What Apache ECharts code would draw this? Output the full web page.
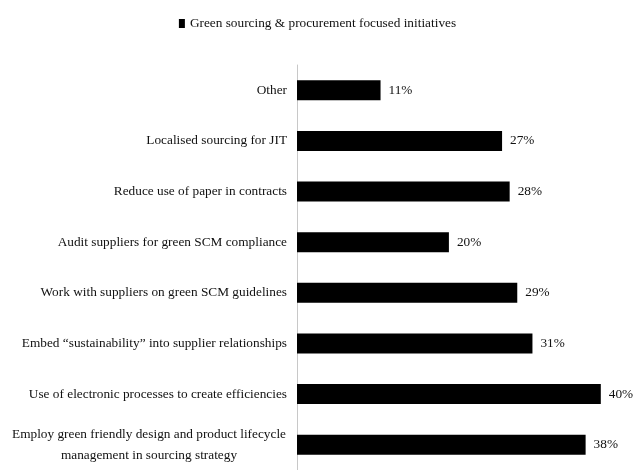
<!DOCTYPE html>
<html><head><meta charset="utf-8">
<script src="https://cdn.jsdelivr.net/npm/echarts@6/dist/echarts.min.js"></script>
<style>html,body{margin:0;padding:0;background:#fff}#c{width:635px;height:470px}</style>
</head><body><div id="c"></div>
<script>
const seriesName = 'Green sourcing & procurement focused initiatives';
const categories = [
  'Other',
  'Localised sourcing for JIT',
  'Reduce use of paper in contracts',
  'Audit suppliers for green SCM compliance',
  'Work with suppliers on green SCM guidelines',
  'Embed \u201csustainability\u201d into supplier relationships',
  'Use of electronic processes to create efficiencies',
  'Employ green friendly design and product lifecycle\nmanagement in sourcing strategy'
];
const values = [11, 27, 28, 20, 29, 31, 40, 38];

const font = '"Liberation Serif", "DejaVu Serif", serif';
const fs = 13.3;
const chart = echarts.init(document.getElementById('c'));
chart.setOption({
  animation: false,
  legend: {
    top: 12, left: 'center',
    itemWidth: 6, itemHeight: 9, itemGap: 4,
    icon: 'rect',
    textStyle: {fontFamily: font, fontSize: 13.3, color: '#111'},
    data: [seriesName]
  },
  grid: {left: 297, top: 65, width: 319, height: 406, containLabel: false},
  xAxis: {type: 'value', min: 0, max: 42, show: false},
  yAxis: {
    type: 'category', inverse: true, data: categories,
    axisLine: {show: true, lineStyle: {color: '#c8c8c8', width: 1}},
    axisTick: {show: false},
    axisLabel: {
      margin: 10, fontFamily: font, fontSize: fs, color: '#111', lineHeight: 21, align: 'right',
      formatter: function (v) {
        if (v.indexOf('\n') < 0) return v;
        return v.split('\n').map(function (s) { return '{c|' + s + '}'; }).join('\n');
      },
      rich: {c: {width: 276, align: 'center', fontFamily: font, fontSize: fs, color: '#111', lineHeight: 21}}
    }
  },
  series: [{
    name: seriesName, type: 'bar', data: values,
    barWidth: 20,
    itemStyle: {color: '#000'},
    label: {show: true, position: 'right', distance: 8, formatter: '{c}%', fontFamily: font, fontSize: fs, color: '#111'}
  }]
});
</script></body></html>
